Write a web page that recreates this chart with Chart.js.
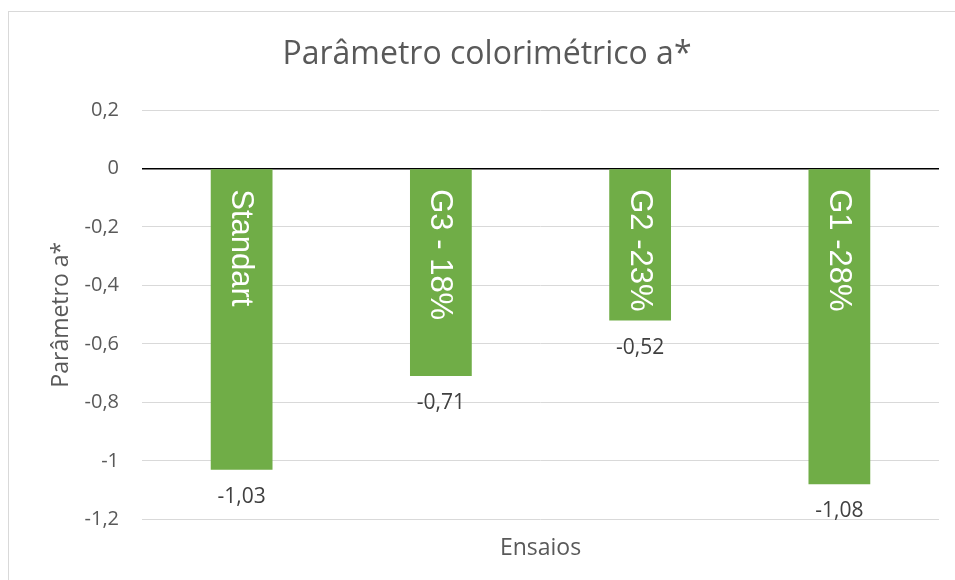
<!DOCTYPE html>
<html>
<head>
<meta charset="utf-8">
<script src="https://cdn.jsdelivr.net/npm/chart.js@4"></script>
<style>
    body { margin: 0; background: #fff; }
    #wrap { position: relative; width: 955px; height: 580px; overflow: hidden; }
    #frame { position: absolute; left: 8px; top: 11px; width: 1000px; height: 700px; border: 1px solid #d9d9d9; }
    canvas { position: absolute; left: 0; top: 0; }
</style>
</head>
<body>
<div id="wrap">
    <div id="frame"></div>
    <canvas id="grafico" width="955" height="580"></canvas>
</div>
<script>
    const ensaios = ['Standart', 'G3 - 18%', 'G2 -23%', 'G1 -28%'];
    const valoresA = [-1.03, -0.71, -0.52, -1.08];
    const escalaY = { min: -1.2, max: 0.2, passo: 0.2 };

    const cinza = '#595959';
    const fonte = '"Open Sans", sans-serif';

    function formatar(v, casas) {
        const n = Math.round(v * 100) / 100;
        return (casas ? n.toFixed(casas) : String(n)).replace('.', ',');
    }

    // rotulos: nome do ensaio dentro da barra e valor abaixo dela
    const rotulosPlugin = {
        id: 'rotulos',
        afterDatasetsDraw(chart) {
            const ctx = chart.ctx;
            const meta = chart.getDatasetMeta(0);
            meta.data.forEach((barra, i) => {
                ctx.save();
                ctx.fillStyle = '#404040';
                ctx.font = '21px ' + fonte;
                ctx.textAlign = 'center';
                ctx.textBaseline = 'middle';
                ctx.fillText(formatar(valoresA[i], 2), barra.x, barra.y + 27);
                ctx.restore();

                ctx.save();
                ctx.translate(barra.x, barra.base + 20);
                ctx.rotate(Math.PI / 2);
                ctx.fillStyle = '#ffffff';
                ctx.font = '31px "Liberation Sans", Arial, sans-serif';
                ctx.textAlign = 'left';
                ctx.textBaseline = 'middle';
                ctx.fillText(ensaios[i], 0, 1);
                ctx.restore();
            });
        }
    };

    new Chart(document.getElementById('grafico'), {
        type: 'bar',
        data: {
            labels: ensaios,
            datasets: [{
                label: 'Parâmetro a*',
                data: valoresA,
                backgroundColor: '#70ad47',
                borderWidth: 0,
                categoryPercentage: 1,
                barPercentage: 0.31
            }]
        },
        options: {
            responsive: false,
            animation: false,
            layout: { padding: { left: 35, right: 16, top: 0, bottom: 18 } },
            plugins: {
                legend: { display: false },
                tooltip: { enabled: false },
                title: {
                    display: true,
                    text: 'Parâmetro colorimétrico a*',
                    color: cinza,
                    font: { family: fonte, size: 32, weight: 'normal' },
                    padding: { top: 36, bottom: 35.6 }
                }
            },
            scales: {
                x: {
                    grid: { display: false },
                    border: { display: false },
                    ticks: { display: false },
                    title: {
                        display: true,
                        text: 'Ensaios',
                        color: cinza,
                        font: { family: fonte, size: 23 },
                        padding: { top: 7, bottom: 0 }
                    }
                },
                y: {
                    min: escalaY.min,
                    max: escalaY.max,
                    afterFit: s => { s.width = 107; },
                    border: { display: false },
                    grid: {
                        drawTicks: false,
                        color: c => Math.abs(c.tick.value) < 1e-9 ? '#000000' : '#d9d9d9',
                        lineWidth: c => Math.abs(c.tick.value) < 1e-9 ? 1.5 : 1
                    },
                    ticks: {
                        stepSize: escalaY.passo,
                        color: cinza,
                        padding: 23,
                        font: { family: fonte, size: 20 },
                        callback: v => formatar(v)
                    },
                    title: {
                        display: true,
                        text: 'Parâmetro a*',
                        color: cinza,
                        font: { family: fonte, size: 23 },
                        padding: { top: 13, bottom: 6 }
                    }
                }
            }
        },
        plugins: [rotulosPlugin]
    });
</script>
</body>
</html>
